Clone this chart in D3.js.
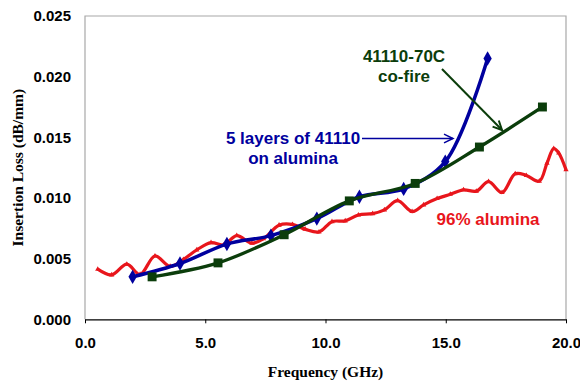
<!DOCTYPE html>
<html>
<head>
<meta charset="utf-8">
<script src="https://cdn.jsdelivr.net/npm/d3@7"></script>
<style>
  body { margin: 0; background: #fff; }
  svg { display: block; }
</style>
</head>
<body>
<div id="chart"></div>
<script>
// data
var xTicks = [0, 5, 10, 15, 20];
var yTicks = [0, 0.005, 0.010, 0.015, 0.020, 0.025];

// 96% alumina (red)
var aluminaFreq = [0.53, 1.11, 1.74, 2.29, 2.91, 3.54, 4.09, 4.65, 5.24, 5.76, 6.31, 6.94, 7.42, 8.07, 8.63, 9.15, 9.73, 10.27, 10.82, 11.37, 11.96, 12.45, 13.0, 13.6, 14.08, 14.64, 15.19, 15.74, 16.27, 16.78, 17.34, 17.89, 18.35, 18.89, 19.21, 19.49, 19.70, 20.0];
var aluminaLoss = [0.00413, 0.00366, 0.00454, 0.0037, 0.00522, 0.00436, 0.00493, 0.00572, 0.00632, 0.00613, 0.0069, 0.00627, 0.00664, 0.00776, 0.00782, 0.00743, 0.0072, 0.00805, 0.00811, 0.0086, 0.00871, 0.00902, 0.00978, 0.00888, 0.00943, 0.00995, 0.0103, 0.01067, 0.01056, 0.01135, 0.01045, 0.0120, 0.01186, 0.01139, 0.01287, 0.01407, 0.0137, 0.01232];

// 5 layers of 41110 on alumina (blue)
var layersFreq = [1.98, 3.95, 5.9, 7.73, 9.64, 11.41, 13.25, 14.98, 16.74];
var layersLoss = [0.0035, 0.0046, 0.0062, 0.0069, 0.0083, 0.0101, 0.01075, 0.0130, 0.0215];

// 41110-70C co-fire (green)
var cofireFreq = [2.79, 5.53, 8.28, 10.99, 13.73, 16.40, 19.02];
var cofireLoss = [0.0035, 0.00465, 0.00697, 0.00976, 0.0112, 0.0142, 0.0175];

var W = 580, H = 382;
var pLeft = 85, pRight = 566, pTop = 16, pBottom = 319.3;

var svg = d3.select('#chart').append('svg')
    .attr('width', W)
    .attr('height', H);

var x = d3.scaleLinear().domain([0, 20]).range([pLeft, pRight]);
var y = d3.scaleLinear().domain([0, 0.025]).range([pBottom, pTop]);

// plot frame
svg.append('path')
    .attr('d', 'M' + pLeft + ',' + pBottom + 'V' + pTop + 'H' + pRight + 'V' + pBottom)
    .attr('fill', 'none')
    .attr('stroke', '#a8a8a8')
    .attr('stroke-width', 1.2);

// x axis
var xAxis = svg.append('g')
    .attr('transform', 'translate(0,' + pBottom + ')')
    .call(d3.axisBottom(x).tickValues(xTicks).tickSize(4).tickSizeOuter(0).tickPadding(14)
        .tickFormat(d3.format('.1f')));
xAxis.select('.domain').attr('stroke', '#000').attr('stroke-width', 1.2);
xAxis.selectAll('.tick line').attr('stroke', '#000');
xAxis.selectAll('text')
    .attr('font-family', '"Liberation Sans", Arial, sans-serif')
    .attr('font-weight', 'bold')
    .attr('font-size', 15)
    .attr('fill', '#000');

// y axis labels (no tick marks)
var yAxis = svg.append('g')
    .attr('transform', 'translate(' + pLeft + ',0)')
    .call(d3.axisLeft(y).tickValues(yTicks).tickSize(0).tickPadding(14)
        .tickFormat(d3.format('.3f')));
yAxis.select('.domain').remove();
yAxis.selectAll('text')
    .attr('font-family', '"Liberation Sans", Arial, sans-serif')
    .attr('font-weight', 'bold')
    .attr('font-size', 15)
    .attr('fill', '#000');

// axis titles
svg.append('text')
    .attr('x', (pLeft + pRight) / 2)
    .attr('y', 377)
    .attr('text-anchor', 'middle')
    .attr('font-family', '"Liberation Serif", "Times New Roman", serif')
    .attr('font-weight', 'bold')
    .attr('font-size', 15.5)
    .text('Frequency (GHz)');

svg.append('text')
    .attr('transform', 'translate(23,' + ((pTop + pBottom) / 2) + ') rotate(-90)')
    .attr('text-anchor', 'middle')
    .attr('font-family', '"Liberation Serif", "Times New Roman", serif')
    .attr('font-weight', 'bold')
    .attr('font-size', 15.5)
    .text('Insertion Loss (dB/mm)');

var red = '#e8161c', blue = '#00009e', green = '#0b3d0b';

function toPoints(fs, vs) {
    return fs.map(function(f, i) { return [f, vs[i]]; });
}

var line = d3.line()
    .x(function(d) { return x(d[0]); })
    .y(function(d) { return y(d[1]); })
    .curve(d3.curveCatmullRom.alpha(0.5));

var series = [
    { pts: toPoints(aluminaFreq, aluminaLoss), color: red, width: 3.2, sym: d3.symbolTriangle, size: 12 },
    { pts: toPoints(layersFreq, layersLoss), color: blue, width: 3.5, sym: d3.symbolDiamond, size: 60 },
    { pts: toPoints(cofireFreq, cofireLoss), color: green, width: 3.3, sym: d3.symbolSquare, size: 80 }
];

series.forEach(function(s) {
    var g = svg.append('g');
    g.append('path')
        .attr('d', line(s.pts))
        .attr('fill', 'none')
        .attr('stroke', s.color)
        .attr('stroke-width', s.width)
        .attr('stroke-linejoin', 'round');
    g.selectAll('path.m')
        .data(s.pts)
        .enter()
        .append('path')
        .attr('class', 'm')
        .attr('d', d3.symbol().type(s.sym).size(s.size))
        .attr('transform', function(d) { return 'translate(' + x(d[0]) + ',' + y(d[1]) + ')'; })
        .attr('fill', s.color);
});

// annotations
function label(lines, cx, y0, color) {
    var t = svg.append('text')
        .attr('text-anchor', 'middle')
        .attr('font-family', '"Liberation Sans", Arial, sans-serif')
        .attr('font-weight', 'bold')
        .attr('font-size', 17)
        .attr('fill', color);
    lines.forEach(function(s, i) {
        t.append('tspan').attr('x', cx).attr('y', y0 + i * 20).text(s);
    });
}

label(['5 layers of 41110', 'on alumina'], 293, 144, blue);
label(['41110-70C', 'co-fire'], 404, 62, green);
label(['96% alumina'], 488, 225, red);

function arrow(x1, y1, x2, y2, color, w) {
    svg.append('line')
        .attr('x1', x1).attr('y1', y1).attr('x2', x2).attr('y2', y2)
        .attr('stroke', color).attr('stroke-width', w);
    var a = Math.atan2(y2 - y1, x2 - x1), L = 10, s = 0.45;
    var p1 = [x2 - L * Math.cos(a - s), y2 - L * Math.sin(a - s)];
    var p2 = [x2 - L * Math.cos(a + s), y2 - L * Math.sin(a + s)];
    svg.append('path')
        .attr('d', 'M' + p1 + 'L' + x2 + ',' + y2 + 'L' + p2)
        .attr('fill', 'none')
        .attr('stroke', color).attr('stroke-width', w);
}

arrow(362, 138.5, 453, 138.5, blue, 1.5);
arrow(442, 69, 502, 130, green, 2);
</script>
</body>
</html>
